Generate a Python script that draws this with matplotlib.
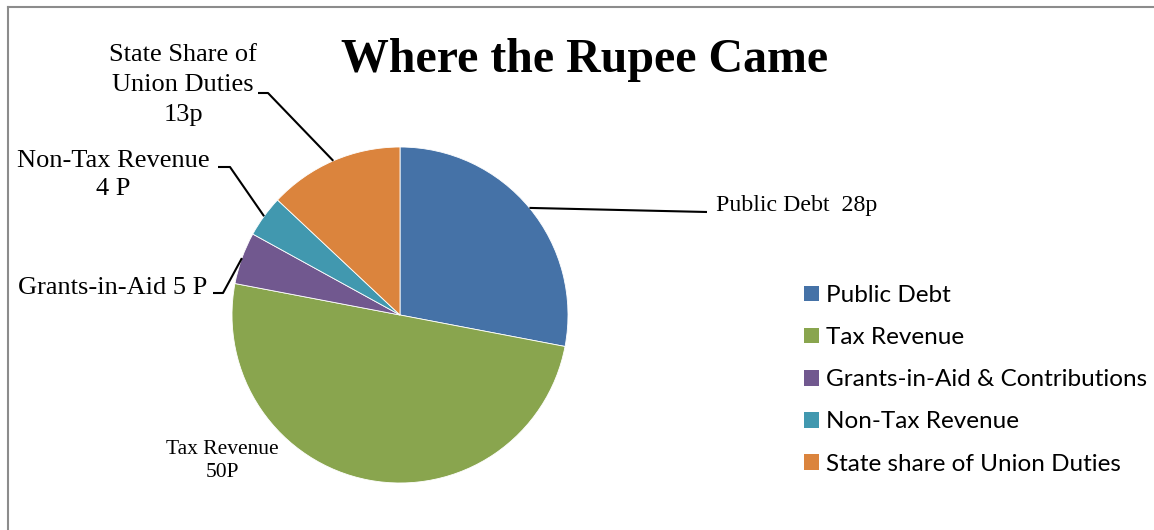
import numpy as np
import matplotlib.pyplot as plt
from matplotlib.lines import Line2D

categories = ['Public Debt', 'Tax Revenue', 'Grants-in-Aid & Contributions',
              'Non-Tax Revenue', 'State share of Union Duties']
values = [28, 50, 5, 4, 13]
slice_labels = ['Public Debt  28p', 'Tax Revenue\n50P', 'Grants-in-Aid 5 P',
                'Non-Tax Revenue\n4 P', 'State Share of\nUnion Duties\n13p']
colors = ['#4572A7', '#89A54E', '#71588F', '#4198AF', '#DB843D']

W, H = 1154, 530


def px(x, y):
    # picture pixels (y down) -> data units (y up)
    return x, H - y


fig = plt.figure(figsize=(W / 100, H / 100), dpi=100)
ax = fig.add_axes([0, 0, 1, 1])

cx, cy = px(400, 315)
R = 168
wedges, _ = ax.pie(values, colors=colors, startangle=90, counterclock=False,
                   center=(cx, cy), radius=R,
                   wedgeprops=dict(edgecolor='white', linewidth=0.6))
ax.set_xlim(0, W)
ax.set_ylim(0, H)
ax.set_aspect('equal')
ax.axis('off')

# label layout: elbow, line end, text position, ha, fontsize, linespacing
layout = [
    (None, (707, 212), (716, 206), 'left', 17.2, 1.2),
    (None, None, (222, 461), 'center', 15.5, 1.25),
    ((223, 293), (213, 293), (207, 288), 'right', 19, 1.2),
    ((230, 167), (218, 167), (113, 175), 'center', 19, 1.35),
    ((268, 93), (258, 93), (183, 85), 'center', 19, 1.45),
]

for w, lab, (elbow, end, txt, ha, fs, ls) in zip(wedges, slice_labels, layout):
    mid = np.deg2rad((w.theta1 + w.theta2) / 2)
    if end is not None:
        ax_pt = (cx + R * np.cos(mid), cy + R * np.sin(mid))
        pts = [ax_pt] + [px(*p) for p in (elbow, end) if p is not None]
        xs, ys = zip(*pts)
        ax.plot(xs, ys, color='black', lw=1.5, solid_capstyle='butt')
    tx, ty = px(*txt)
    ax.text(tx, ty, lab, ha=ha, va='center', multialignment='center',
            fontsize=fs, family='Liberation Serif', linespacing=ls)

fig.text(584.5 / W, 1 - 72 / H, 'Where the Rupee Came', ha='center',
         va='baseline', fontsize=34.5, fontweight='bold',
         family='Liberation Serif')

leg = ax.legend(wedges, categories, loc='upper left',
                bbox_to_anchor=(804 / W, 1 - 285 / H), frameon=False,
                borderpad=0, borderaxespad=0, handlelength=0.62,
                handleheight=0.62, handletextpad=0.3, labelspacing=0.87,
                prop=dict(family='Lato', size=17.5))
for h in leg.legend_handles:
    h.set_edgecolor('none')

# chart border (left and top edges only visible)
fig.add_artist(Line2D([7.5 / W, 7.5 / W], [0, 1 - 6.5 / H],
                      transform=fig.transFigure, color='#8c8c8c', lw=1.5))
fig.add_artist(Line2D([7.5 / W, 1], [1 - 6.5 / H, 1 - 6.5 / H],
                      transform=fig.transFigure, color='#8c8c8c', lw=1.5))

fig.savefig('out.png', dpi=100)
